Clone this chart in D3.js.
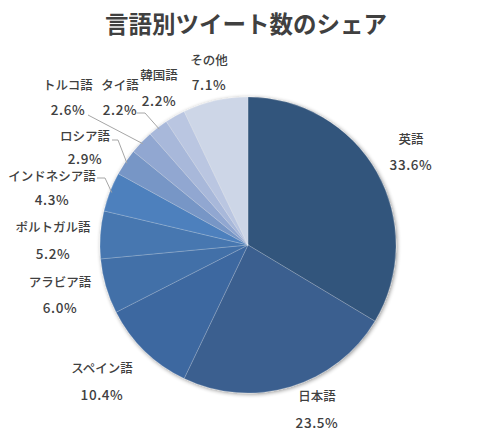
<!DOCTYPE html>
<html><head><meta charset="utf-8">
<script src="https://cdn.jsdelivr.net/npm/d3@7"></script>
<style>body{margin:0;background:#fff;}svg{display:block;}</style>
</head><body>
<svg id="c" width="496" height="438"></svg>
<script>
const categories = ["英語","日本語","スペイン語","アラビア語","ポルトガル語","インドネシア語","ロシア語","トルコ語","タイ語","韓国語","その他"];
const shares = [33.6,23.5,10.4,6.0,5.2,4.3,2.9,2.6,2.2,2.2,7.1];
const pctLabels = ["33.6%","23.5%","10.4%","6.0%","5.2%","4.3%","2.9%","2.6%","2.2%","2.2%","7.1%"];
const colors = ["#33557b","#3a5f8f","#3e68a0","#4270a8","#4677b0","#4d80bd","#7796c6","#91a7d1","#a8b8da","#bac6e1","#cdd6e7"];
const title = "言語別ツイート数のシェア";

const svg = d3.select("#c");
const cx = 248, cy = 245, R = 148;
const font = "'Noto Sans CJK JP','Noto Sans',sans-serif";

const defs = svg.append("defs");
const f = defs.append("filter").attr("id","sh").attr("x","-20%").attr("y","-20%").attr("width","140%").attr("height","140%");
f.append("feGaussianBlur").attr("in","SourceAlpha").attr("stdDeviation",2.2).attr("result","b");
f.append("feOffset").attr("in","b").attr("dx",0.5).attr("dy",1).attr("result","o");
f.append("feComponentTransfer").attr("in","o").attr("result","o2").append("feFuncA").attr("type","linear").attr("slope",0.45);
const m = f.append("feMerge"); m.append("feMergeNode").attr("in","o2"); m.append("feMergeNode").attr("in","SourceGraphic");

svg.append("text").attr("x",246).attr("y",33).attr("text-anchor","middle")
  .attr("font-family",font).attr("font-weight","bold").attr("font-size",23.5)
  .attr("fill","#404040").text(title);

const data = categories.map((c,i)=>({name:c,value:shares[i],pct:pctLabels[i],color:colors[i]}));
const pie = d3.pie().value(d=>d.value).sort(null).startAngle(0).endAngle(2*Math.PI);
const arcs = pie(data);
const arc = d3.arc().innerRadius(0).outerRadius(R);

const g = svg.append("g").attr("transform",`translate(${cx},${cy})`);
const sg = g.append("g").attr("filter","url(#sh)");
sg.selectAll("path").data(arcs).join("path")
  .attr("d",arc).attr("fill",d=>d.data.color)
  .attr("stroke","rgba(255,255,255,0.25)").attr("stroke-width",0.75);

// label positions: [x, name line y, percent line y]
const labelPos = [[411,140,165],[317,397,423],[102,369,395],[60,283,308],[53,228,254],[52,177,200],[85,137,159],[68,86,110],[120,86,110],[159,76,101],[209,61,85]];

const lg = svg.append("g").attr("font-family",font).attr("font-size",12.5).attr("fill","#404040").attr("text-anchor","middle");
data.forEach((d,i)=>{
  const [x,y1,y2] = labelPos[i];
  lg.append("text").attr("x",x).attr("y",y1).attr("dy","0.35em").attr("font-weight",500).text(d.name);
  lg.append("text").attr("x",x).attr("y",y2).attr("dy","0.35em").attr("font-weight",500).attr("font-size",13.5).attr("letter-spacing",0.6).text(d.pct);
});

// leader lines for small slices
const leaders = [
  {i:5, pts:[[97,178],[105,178]]},
  {i:6, pts:[[112,140],[118,140]]},
  {i:7, pts:[[88,115]]},
  {i:8, pts:[[137,113],[145,113]]}
];
leaders.forEach(l=>{
  const a = arcs[l.i];
  const mid = (a.startAngle+a.endAngle)/2;
  const end = [cx + Math.sin(mid)*(R-2), cy - Math.cos(mid)*(R-2)];
  const pts = l.pts.concat([end]);
  svg.append("path").attr("d",d3.line()(pts)).attr("fill","none").attr("stroke","#a6a6a6").attr("stroke-width",1);
});
</script>
</body></html>
